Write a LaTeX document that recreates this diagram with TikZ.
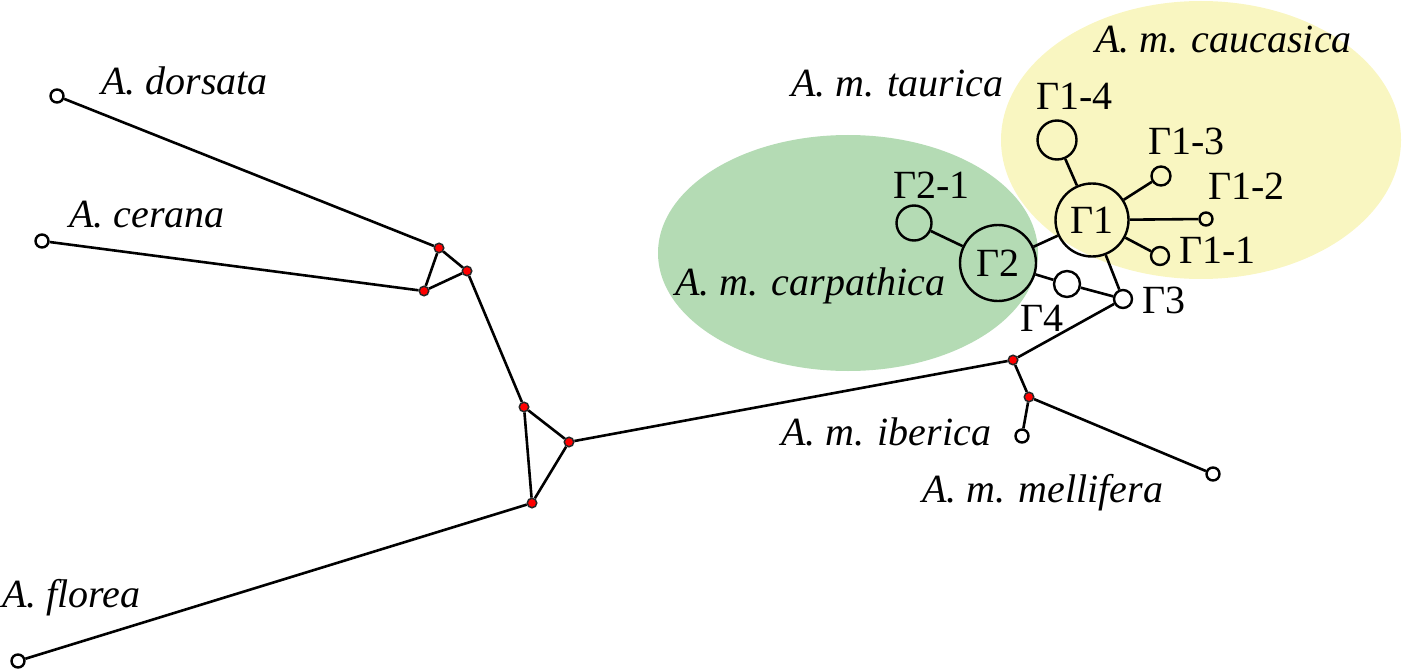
\documentclass[tikz,border=0pt]{standalone}
\usepackage{fontspec}
\setmainfont{Liberation Serif}
\newcommand{\labelfont}{\fontsize{40}{44}\selectfont}
\definecolor{CarpGreen}{HTML}{B4DBB4}
\definecolor{CaucYellow}{HTML}{F9F6C1}
\tikzset{
    hap/.style = {draw, circle, line width=2.4pt, inner sep=0pt},
    med/.style = {draw=black!85, circle, fill=red, line width=1.5pt, inner sep=0pt, minimum size=9.5pt},
    link/.style = {draw, line width=2.6pt},
    taxon/.style = {anchor=base west, inner sep=0pt, font=\labelfont\itshape},
    hlabel/.style = {anchor=base west, inner sep=0pt, font=\labelfont}
}

\begin{document}
\begin{tikzpicture}[x=1pt, y=-1pt, font=\labelfont]
        \useasboundingbox (0,0) rectangle (1402,671);
        \fill[CarpGreen] (848,253) ellipse [x radius=190, y radius=118];
        \fill[CaucYellow] (1201,140) ellipse [x radius=200, y radius=139];
        % median vectors
        \foreach \n/\x/\y in {mA/439/248, mB/467/271, mC/424/291, mD/524/407, mE/569/442, mF/532/503, mG/1013/360, mH/1029/397}{
            \node [med] (\n) at (\x,\y) {};
        }
        % haplotypes
        \foreach \n/\x/\y/\s in {dors/57/96/13, cera/42/241/13, flor/18/661/13, iber/1022/436/13, mell/1213/474/13, g3/1123/299/18, g4/1067/284/26, g21/914/223/35, g14/1057/140/39, g13/1161/176/19, g12/1206/219/13, g11/1160/256/18}{
            \node [hap, minimum size=\s] (\n) at (\x,\y) {};
        }
        \node [hap, minimum size=73] (g1) at (1092,220) {Γ1};
        \node [hap, minimum size=76] (g2) at (998,263) {Γ2};
        \foreach \a/\b in {dors/mA, cera/mC, mA/mC, mA/mB, mC/mB, mB/mD, mD/mE, mD/mF, mE/mF, mF/flor, mE/mG, mG/g3, mG/mH, mH/iber, mH/mell, g3/g1, g3/g4, g4/g2, g2/g21, g2/g1, g1/g14, g1/g13, g1/g12, g1/g11}{
            \draw [link] (\a) -- (\b);
        }
        \node [taxon] (tdors) at (101,95) {A. dorsata};
        \node [taxon] (tcera) at (69,227) {A. cerana};
        \node [taxon] (tflor) at (2,607) {A. florea};
        \node [taxon] (ttaur) at (791,97) {A. m. taurica};
        \node [taxon] (tcauc) at (1095,53) {A. m. caucasica};
        \node [taxon] (tcarp) at (675,295) {A. m. carpathica};
        \node [taxon] (tiber) at (781,445) {A. m. iberica};
        \node [taxon] (tmell) at (922,502) {A. m. mellifera};
        \node [hlabel] (l14) at (1036,110) {Γ1-4};
        \node [hlabel] (l13) at (1148,155) {Γ1-3};
        \node [hlabel] (l12) at (1208,200) {Γ1-2};
        \node [hlabel] (l11) at (1179,263) {Γ1-1};
        \node [hlabel] (l21) at (893,198) {Γ2-1};
        \node [hlabel] (l4) at (1020,331) {Γ4};
        \node [hlabel] (l3) at (1142,313) {Γ3};
\end{tikzpicture}
\end{document}
